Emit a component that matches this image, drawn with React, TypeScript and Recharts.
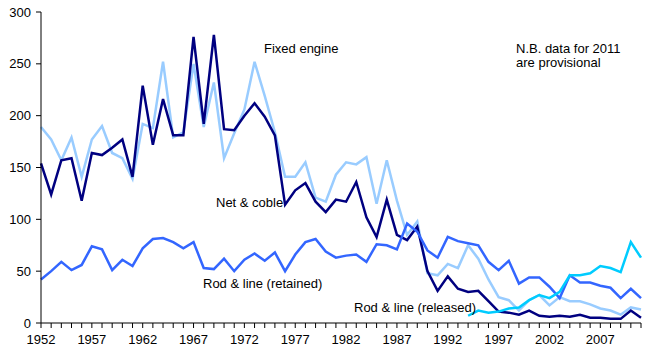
import { LineChart, Line, XAxis, YAxis } from 'recharts'

// years shown on the axis
const years: number[] = Array.from({ length: 60 }, (_, i) => 1952 + i)

const fixedEngine = [
  189, 177, 157, 179, 141, 177, 190, 164, 159, 139,
  192, 188, 252, 179, 184, 250, 189, 232, 159, 183,
  206, 252, 219, 184, 141, 141, 155, 121, 117, 143,
  155, 153, 160, 115, 157, 118, 85, 98, 48, 46,
  57, 53, 75, 62, 42, 25, 22, 12, 22, 27,
  17, 25, 21, 21, 18, 14, 12, 8, 15, 13,
]

const netCoble = [
  154, 124, 157, 159, 118, 164, 162, 169, 177, 141,
  229, 172, 216, 181, 181, 276, 192, 278, 187, 186,
  200, 212, 199, 181, 114, 128, 135, 117, 107, 119,
  117, 136, 102, 83, 119, 85, 80, 93, 50, 31,
  45, 33, 30, 31, 21, 11, 10, 8, 12, 7,
  6, 7, 6, 8, 5, 5, 4, 4, 12, 5,
]

const rodRetained = [
  42, 50, 59, 51, 56, 74, 71, 51, 61, 55,
  72, 81, 82, 78, 72, 78, 53, 52, 62, 50,
  61, 67, 60, 68, 50, 66, 78, 81, 69, 63,
  65, 66, 59, 76, 75, 71, 96, 88, 70, 63,
  83, 79, 77, 75, 59, 51, 60, 38, 44, 44,
  35, 24, 46, 39, 39, 36, 34, 24, 33, 24,
]

// released fish only recorded from 1994
const releasedFrom = 1994
const rodReleased = [7, 12, 10, 11, 14, 15, 22, 27, 24, 30, 46, 46, 48, 55, 53, 49, 78, 63]

const yTicks = [0, 50, 100, 150, 200, 250, 300]

const FONT = '"Liberation Sans", Arial, sans-serif'

const data = years.map((year, i) => ({
  year,
  fixed: fixedEngine[i],
  net: netCoble[i],
  retained: rodRetained[i],
  released: year >= releasedFrom ? rodReleased[year - releasedFrom] : null,
}))

const YearTick = (props: any) => {
  const { x, y, payload } = props
  if ((payload.value - 1952) % 5 !== 0) return null
  return (
    <text x={x} y={y + 15.5} textAnchor="middle" fontSize={13} fontFamily={FONT} fill="#000">
      {payload.value}
    </text>
  )
}

export default function App() {
  return (
    <div style={{ position: 'absolute', left: 0, top: 0, width: 658, height: 355, background: '#fff' }}>
      <LineChart
        width={658}
        height={355}
        data={data}
        margin={{ top: 12, right: 17, bottom: 0, left: 0 }}
      >
        <XAxis
          dataKey="year"
          type="number"
          domain={[1952, 2011]}
          ticks={years}
          interval={0}
          height={32}
          tickSize={5}
          tickMargin={0}
          axisLine={{ stroke: '#000', strokeWidth: 1 }}
          tickLine={{ stroke: '#000', strokeWidth: 1 }}
          tick={<YearTick />}
        />
        <YAxis
          domain={[0, 300]}
          ticks={yTicks}
          interval={0}
          width={41}
          tickSize={5}
          tickMargin={5}
          axisLine={{ stroke: '#000', strokeWidth: 1 }}
          tickLine={{ stroke: '#000', strokeWidth: 1 }}
          tick={{ fill: '#000', fontSize: 13, fontFamily: FONT }}
        />
        <Line type="linear" dataKey="fixed" stroke="#99ccff" strokeWidth={2.5} dot={false} isAnimationActive={false} />
        <Line type="linear" dataKey="net" stroke="#000080" strokeWidth={2.5} dot={false} isAnimationActive={false} />
        <Line type="linear" dataKey="retained" stroke="#3366ff" strokeWidth={2.5} dot={false} isAnimationActive={false} />
        <Line type="linear" dataKey="released" stroke="#00ccff" strokeWidth={2.5} dot={false} connectNulls={false} isAnimationActive={false} />
      </LineChart>
      <svg
        width={658}
        height={355}
        style={{ position: 'absolute', left: 0, top: 0, pointerEvents: 'none' }}
        fontFamily={FONT}
        fontSize={13}
        fill="#000"
      >
        <text x={264} y={53}>Fixed engine</text>
        <text x={516} y={53}>N.B. data for 2011</text>
        <text x={516} y={67}>are provisional</text>
        <text x={216} y={207}>Net &amp; coble</text>
        <text x={203} y={288}>Rod &amp; line (retained)</text>
        <text x={354} y={312}>Rod &amp; line (released)</text>
      </svg>
    </div>
  )
}
